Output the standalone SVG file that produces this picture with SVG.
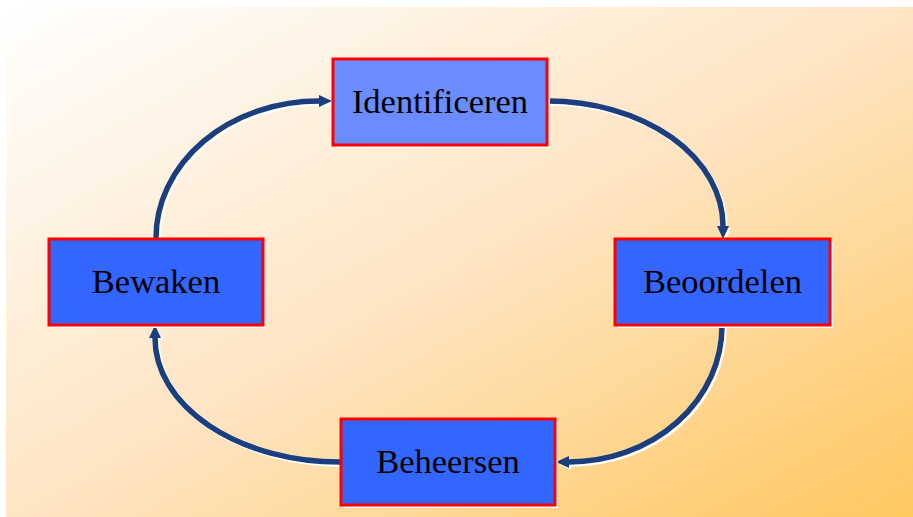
<svg xmlns="http://www.w3.org/2000/svg" width="913" height="517" viewBox="0 0 913 517">
  <defs>
    <linearGradient id="bg" x1="0" y1="0" x2="1" y2="1">
      <stop offset="0" stop-color="#FFFFFF"/>
      <stop offset="0.5" stop-color="#FEE5C4"/>
      <stop offset="1" stop-color="#FFC860"/>
    </linearGradient>
    <marker id="arr" markerUnits="userSpaceOnUse" markerWidth="14" markerHeight="14" refX="0" refY="7" orient="auto" viewBox="0 0 14 14">
      <path d="M0,1 L13,7 L0,13 z" fill="#1A3E7E"/>
    </marker>
    <marker id="arrw" markerUnits="userSpaceOnUse" markerWidth="14" markerHeight="14" refX="0" refY="7" orient="auto" viewBox="0 0 14 14">
      <path d="M0,1 L13,7 L0,13 z" fill="#FFFFFF"/>
    </marker>
  </defs>
  <style>
    .box { stroke: #FF0000; stroke-width: 3; }
    .shadow { fill: #FFFFFF; }
    .lbl { font-family: "Liberation Serif", "Times New Roman", serif; font-size: 34.5px; fill: #000000; text-anchor: middle; }
    .conn { fill: none; stroke: #1A3E7E; stroke-width: 5.5; marker-end: url(#arr); }
    .connw { fill: none; stroke: #FFFFFF; stroke-width: 5.5; marker-end: url(#arrw); }
  </style>

  <rect x="6" y="7" width="907" height="510" fill="url(#bg)"/>

  <g id="connectors">
    <g transform="translate(2,2)">
      <path class="connw" d="M548,101 A175,125 0 0 1 723,226"/>
      <path class="connw" d="M722,326 A153,136 0 0 1 569,462"/>
      <path class="connw" d="M340,462 A185,124 0 0 1 155,338"/>
      <path class="connw" d="M156,238 A163,137 0 0 1 319,101"/>
    </g>
    <path class="conn" d="M548,101 A175,125 0 0 1 723,226"/>
    <path class="conn" d="M722,326 A153,136 0 0 1 569,462"/>
    <path class="conn" d="M340,462 A185,124 0 0 1 155,338"/>
    <path class="conn" d="M156,238 A163,137 0 0 1 319,101"/>
  </g>

  <g id="identificeren">
    <rect class="shadow" x="336" y="62" width="214" height="86"/>
    <rect class="box" x="333" y="59" width="214" height="86" fill="#6B8CFF"/>
    <text class="lbl" x="440" y="113">Identificeren</text>
  </g>

  <g id="beoordelen">
    <rect class="shadow" x="618" y="242" width="215" height="86"/>
    <rect class="box" x="615" y="239" width="215" height="86" fill="#3366FF"/>
    <text class="lbl" x="722.5" y="293">Beoordelen</text>
  </g>

  <g id="beheersen">
    <rect class="shadow" x="344" y="422" width="214" height="86"/>
    <rect class="box" x="341" y="419" width="214" height="86" fill="#3366FF"/>
    <text class="lbl" x="448" y="473">Beheersen</text>
  </g>

  <g id="bewaken">
    <rect class="shadow" x="52" y="242" width="214" height="86"/>
    <rect class="box" x="49" y="239" width="214" height="86" fill="#3366FF"/>
    <text class="lbl" x="156" y="293">Bewaken</text>
  </g>
</svg>
